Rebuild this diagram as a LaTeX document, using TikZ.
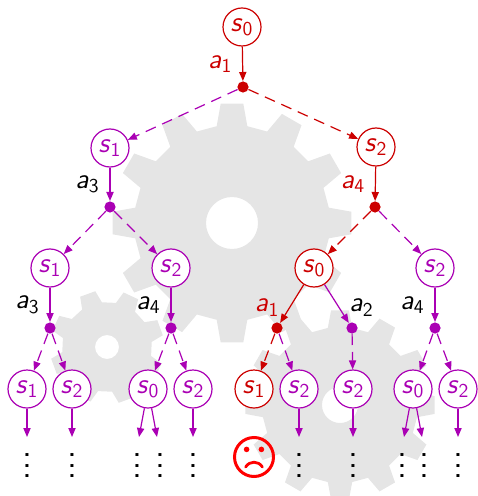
\documentclass[tikz,border=0pt]{standalone}
\usepackage{tikz}
\usetikzlibrary{arrows.meta}
\usepackage{xcolor}

\definecolor{pathred}{RGB}{204,0,0}
\definecolor{branch}{RGB}{170,0,180}
\definecolor{gearfill}{RGB}{229,229,229}

\newcommand{\st}[1]{\textit{s}\textsubscript{#1}}
\newcommand{\act}[1]{\textit{a}\textsubscript{#1}}

% gear: centre, root radius, tip radius, teeth, hole radius, phase
\newcommand{\gearat}[6]{%
  \pgfmathsetmacro\gp{360/#4}
  \fill[gearfill,even odd rule,shift={(#1)}]
    ({#6-0.3*\gp}:#2)
    \foreach \k in {1,...,#4}{
      -- ({#6+(\k-1)*\gp-0.3*\gp}:#2) -- ({#6+(\k-1)*\gp-0.18*\gp}:#3)
      -- ({#6+(\k-1)*\gp+0.18*\gp}:#3) -- ({#6+(\k-1)*\gp+0.3*\gp}:#2)
    } -- cycle
    (0,0) circle (#5);}

\begin{document}
\begin{tikzpicture}[x=0.5pt,y=-0.5pt,font=\fontsize{14}{17}\selectfont\sffamily,
  state/.style={circle,draw,fill=white,line width=0.6pt,minimum size=19pt,inner sep=0pt},
  choice/.style={circle,fill,inner sep=0pt,minimum size=5.6pt},
  go/.style={-{Triangle[length=4.5pt,width=3.6pt]},line width=0.6pt},
  try/.style={go,dash pattern=on 5.5pt off 3.5pt},
  more/.style={anchor=south,inner sep=0pt,text=black}]
  \useasboundingbox (0,0) rectangle (477,496);

  % gears in the background
  \gearat{232,223}{98}{120}{12}{26}{0}
  \gearat{107,347}{45}{57}{8}{12}{25}
  \gearat{340,405}{78}{95}{12}{18}{0}

  % states and choice points
  \node (n) [pathred,state] at (242,27) {\st0};
  \node (c) [pathred,choice] at (243,87) {};
  \node (n1) [branch,state] at (110,148) {\st1};
  \node (n2) [pathred,state] at (376,147) {\st2};
  \node (c1) [branch,choice] at (110,207) {};
  \node (c2) [pathred,choice] at (375,207) {};
  \node (n11) [branch,state] at (50,268) {\st1};
  \node (n12) [branch,state] at (171,268) {\st2};
  \node (n21) [pathred,state] at (314,268) {\st0};
  \node (n22) [branch,state] at (435,268) {\st2};
  \node (c11) [branch,choice] at (50,328) {};
  \node (c12) [branch,choice] at (171,328) {};
  \node (c21) [pathred,choice] at (277,328) {};
  \node (c22) [branch,choice] at (352,328) {};
  \node (c23) [branch,choice] at (435,328) {};
  \node (m1) [branch,state] at (27,389) {\st1};
  \node (m2) [branch,state] at (72,389) {\st2};
  \node (m3) [branch,state] at (148,389) {\st0};
  \node (m4) [branch,state] at (193,389) {\st2};
  \node (m5) [pathred,state] at (254,389) {\st1};
  \node (m6) [branch,state] at (299,389) {\st2};
  \node (m7) [branch,state] at (353,389) {\st2};
  \node (m8) [branch,state] at (413,389) {\st0};
  \node (m9) [branch,state] at (458,389) {\st2};

  % where the tree goes on
  \foreach \x/\nm in {27/1,72/2,139/3a,157/3b,193/4,299/6,353/7,404/8a,422/8b,458/9}{
    \coordinate (e\nm) at (\x,437);
  }
  \foreach \x/\nm in {27/1,72/2,137/3a,160/3b,193/4,299/6,353/7,402/8a,424/8b,458/9}{
    \node (v\nm) [more] at (\x,478) {\scalebox{1.3}{$\vdots$}};
  }

  % edges
  \draw[go,pathred] (n) -- node[left=1.5pt] {\act1} (c);
  \draw[try,branch] (c) -- (n1);
  \draw[try,pathred] (c) -- (n2);
  \draw[go,branch] (n1) -- node[left=1.5pt,black] {\act3} (c1);
  \draw[go,pathred] (n2) -- node[left=1.5pt] {\act4} (c2);
  \draw[try,branch] (c1) -- (n11);
  \draw[try,branch] (c1) -- (n12);
  \draw[try,pathred] (c2) -- (n21);
  \draw[try,branch] (c2) -- (n22);
  \draw[go,branch] (n11) -- node[left=1.5pt,black] {\act3} (c11);
  \draw[go,branch] (n12) -- node[left=1.5pt,black] {\act4} (c12);
  \draw[go,pathred] (n21) -- node[left=1.5pt,pos=0.6] {\act1} (c21);
  \draw[go,branch] (n21) -- node[right=1.5pt,pos=0.6,black] {\act2} (c22);
  \draw[go,branch] (n22) -- node[left=1.5pt,black] {\act4} (c23);
  \draw[try,branch] (c11) -- (m1);
  \draw[try,branch] (c11) -- (m2);
  \draw[try,branch] (c12) -- (m3);
  \draw[try,branch] (c12) -- (m4);
  \draw[try,pathred] (c21) -- (m5);
  \draw[try,branch] (c21) -- (m6);
  \draw[try,branch] (c22) -- (m7);
  \draw[try,branch] (c23) -- (m8);
  \draw[try,branch] (c23) -- (m9);
  \draw[go,branch] (m1) -- (e1);
  \draw[go,branch] (m2) -- (e2);
  \draw[go,branch] (m3) -- (e3a);
  \draw[go,branch] (m3) -- (e3b);
  \draw[go,branch] (m4) -- (e4);
  \draw[go,branch] (m6) -- (e6);
  \draw[go,branch] (m7) -- (e7);
  \draw[go,branch] (m8) -- (e8a);
  \draw[go,branch] (m8) -- (e8b);
  \draw[go,branch] (m9) -- (e9);

  % dead end
  \node (sad) [circle,draw=red,line width=1.5pt,minimum size=19.5pt,inner sep=0pt] at (254,457) {};
  \fill[red] ([shift={(-3.7pt,3.8pt)}]sad.center) circle (1.4pt)
             ([shift={(3.7pt,3.8pt)}]sad.center) circle (1.4pt);
  \draw[red,line width=1.4pt,line cap=round] ([shift={(-4.2pt,-5pt)}]sad.center)
    .. controls ([shift={(-2.2pt,-1.8pt)}]sad.center) and ([shift={(2.2pt,-1.8pt)}]sad.center)
    .. ([shift={(4.2pt,-5pt)}]sad.center);
\end{tikzpicture}
\end{document}
